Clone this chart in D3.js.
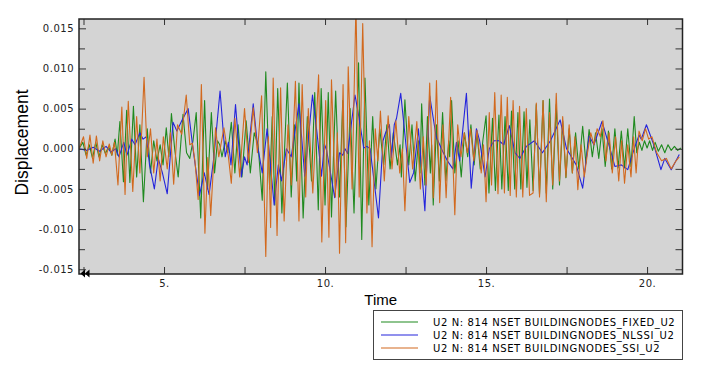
<!DOCTYPE html>
<html><head><meta charset="utf-8">
<script src="https://cdn.jsdelivr.net/npm/d3@7"></script>
<style>
html,body{margin:0;padding:0;background:#fff;}
svg{display:block;}
</style></head>
<body>
<script>
// ---------- DATA ----------
const seriesNames = ["U2 N: 814 NSET BUILDINGNODES_FIXED_U2","U2 N: 814 NSET BUILDINGNODES_NLSSI_U2","U2 N: 814 NSET BUILDINGNODES_SSI_U2"];
const seriesColors = ["#1f8a1f","#2424dc","#d2691e"];
const xTicks = [2.5,5,7.5,10,12.5,15,17.5,20];
const xLabelTicks = [5,10,15,20];
const yMajorTicks = [-0.015,-0.010,-0.005,0.000,0.005,0.010,0.015];
const yMinorTicks = [-0.0125,-0.0075,-0.0025,0.0025,0.0075,0.0125];
const xDomain = [2.36,21.10];
const yDomain = [-0.01559,0.01616];

const fixedData = [[2.36,0],[2.48,0.0008],[2.58,-0.0008],[2.68,0.0005],[2.78,-0.0012],[2.88,0.0008],[2.98,-0.0010],[3.08,0.0005],[3.18,-0.0006],[3.28,0.0003],[3.38,-0.0008],[3.48,0.0012],[3.55,-0.0008],[3.63,0.0034],[3.74,-0.0041],[3.84,0.0048],[3.94,-0.0042],[4.05,0.0053],[4.15,-0.0035],[4.25,0.0030],[4.36,-0.0066],[4.48,0.0025],[4.58,-0.0030],[4.68,0.0010],[4.78,-0.0015],[4.88,0.0005],[4.97,-0.0020],[5.07,0.0026],[5.15,-0.0010],[5.23,0.0044],[5.33,0.0000],[5.44,-0.0035],[5.59,0.0043],[5.70,-0.0005],[5.80,-0.0012],[5.90,0.0010],[6.00,0.0045],[6.14,-0.0086],[6.26,0.0060],[6.35,-0.0050],[6.47,0.0045],[6.57,-0.0030],[6.66,0.0010],[6.73,0.0005],[6.80,-0.0010],[6.90,0.0010],[6.98,-0.0005],[7.09,0.0033],[7.20,-0.0030],[7.30,0.0030],[7.42,-0.0035],[7.55,0.0035],[7.68,-0.0030],[7.80,0.0020],[7.92,0.0005],[8.05,-0.0064],[8.16,0.0096],[8.28,-0.0050],[8.36,0.0040],[8.44,-0.0070],[8.53,0.0075],[8.66,-0.0080],[8.83,0.0082],[8.95,-0.0060],[9.05,0.0030],[9.12,-0.0040],[9.19,0.0082],[9.32,-0.0086],[9.45,0.0040],[9.58,-0.0040],[9.68,0.0070],[9.79,-0.0076],[9.88,0.0075],[10.00,-0.0070],[10.10,0.0070],[10.20,-0.0085],[10.33,0.0072],[10.45,-0.0060],[10.55,0.0060],[10.65,-0.0097],[10.78,0.0050],[10.90,-0.0080],[11.04,0.0107],[11.14,-0.0113],[11.24,0.0088],[11.36,-0.0070],[11.48,0.0040],[11.58,-0.0050],[11.70,0.0025],[11.82,-0.0020],[11.92,0.0030],[12.02,-0.0025],[12.12,0.0020],[12.25,-0.0020],[12.33,0.0005],[12.37,-0.0035],[12.48,0.0061],[12.60,-0.0020],[12.70,0.0030],[12.80,-0.0040],[12.90,0.0010],[12.95,-0.0030],[13.00,0.0056],[13.10,-0.0045],[13.18,0.0040],[13.27,-0.0030],[13.31,0.0005],[13.36,-0.0070],[13.46,0.0030],[13.55,-0.0040],[13.65,0.0045],[13.75,-0.0040],[13.84,0.0010],[13.87,-0.0010],[13.93,0.0060],[14.03,-0.0030],[14.13,0.0010],[14.23,-0.0035],[14.33,0.0020],[14.43,-0.0010],[14.53,0.0030],[14.63,-0.0020],[14.72,0.0020],[14.82,-0.0025],[14.90,0.0010],[15.00,0.0041],[15.09,-0.0055],[15.20,0.0038],[15.29,-0.0052],[15.40,0.0042],[15.49,-0.0050],[15.59,0.0040],[15.69,-0.0052],[15.79,0.0047],[15.89,-0.0050],[15.99,0.0045],[16.08,-0.0050],[16.18,0.0046],[16.27,-0.0048],[16.36,0.0036],[16.46,-0.0052],[16.56,0.0055],[16.66,-0.0057],[16.77,0.0060],[16.87,-0.0055],[16.97,0.0062],[17.07,-0.0050],[17.18,0.0055],[17.28,-0.0045],[17.38,0.0035],[17.48,-0.0036],[17.58,0.0025],[17.68,-0.0030],[17.78,0.0020],[17.88,-0.0025],[18.00,0.0028],[18.10,-0.0018],[18.20,0.0024],[18.30,-0.0010],[18.40,0.0020],[18.50,-0.0012],[18.60,0.0025],[18.70,-0.0022],[18.80,0.0022],[18.90,-0.0025],[19.00,0.0025],[19.10,-0.0024],[19.20,0.0022],[19.30,-0.0024],[19.40,0.0025],[19.50,-0.0022],[19.60,0.0040],[19.68,-0.0005],[19.76,0.0008],[19.84,-0.0002],[19.92,0.0010],[20.00,0.0001],[20.08,0.0010],[20.17,-0.0002],[20.25,0.0008],[20.35,-0.0003],[20.45,0.0005],[20.55,-0.0005],[20.65,0.0005],[20.75,-0.0002],[20.85,0.0003],[20.95,-0.0002],[21.05,0.0001]];

const nlssiData = [[2.36,0],[2.6,-0.0002],[2.8,0.0002],[3.0,-0.0003],[3.2,0.0003],[3.35,-0.0004],[3.5,0.0000],[3.6,-0.0010],[3.75,0.0008],[3.85,-0.0008],[4.0,0.0012],[4.1,0.0005],[4.25,0.0020],[4.35,0.0012],[4.45,0.0015],[4.55,-0.0020],[4.7,-0.0050],[4.82,-0.0012],[4.95,-0.0030],[5.1,-0.0056],[5.28,0.0033],[5.4,0.0022],[5.55,0.0035],[5.75,0.0050],[5.9,0.0000],[6.1,-0.0058],[6.25,-0.0030],[6.4,-0.0057],[6.55,-0.0010],[6.74,0.0072],[6.9,-0.0010],[7.0,0.0008],[7.08,-0.0020],[7.22,0.0055],[7.4,-0.0035],[7.5,-0.0010],[7.58,-0.0020],[7.77,0.0056],[7.9,0.0005],[8.05,-0.0030],[8.2,0.0025],[8.42,-0.0070],[8.55,-0.0020],[8.65,-0.0040],[8.8,0.0000],[8.95,-0.0010],[9.19,0.0056],[9.37,-0.0034],[9.61,0.0067],[9.75,0.0020],[9.89,-0.0034],[9.98,0.0006],[10.05,-0.0002],[10.3,-0.0061],[10.45,-0.0005],[10.55,-0.0008],[10.62,0.0000],[10.7,-0.0006],[10.93,0.0067],[11.05,0.0040],[11.2,0.0001],[11.3,0.0003],[11.4,0.0000],[11.5,-0.0033],[11.66,-0.0086],[11.8,0.0010],[11.88,0.0020],[12.0,0.0030],[12.06,-0.0011],[12.15,0.0030],[12.22,0.0038],[12.35,0.0069],[12.45,0.0030],[12.63,-0.0042],[12.75,-0.0030],[12.9,0.0025],[13.1,-0.0077],[13.25,0.0066],[13.45,0.0015],[13.65,-0.0003],[13.8,-0.0015],[13.97,-0.0025],[14.08,0.0008],[14.18,-0.0015],[14.39,0.0069],[14.54,-0.0049],[14.7,0.0025],[14.8,0.0010],[14.97,-0.0035],[15.1,0.0000],[15.25,0.0010],[15.4,0.0010],[15.55,0.0005],[15.72,0.0029],[15.9,-0.0005],[16.05,-0.0012],[16.25,0.0003],[16.5,0.0010],[16.75,-0.0005],[17.0,0.0010],[17.3,0.0036],[17.5,0.0000],[17.65,-0.0010],[17.8,-0.0020],[18.0,-0.0049],[18.2,0.0016],[18.35,0.0005],[18.6,0.0034],[18.85,0.0000],[19.0,-0.0022],[19.2,-0.0020],[19.4,-0.0026],[19.6,0.0000],[19.75,0.0017],[19.82,0.0012],[19.98,0.0030],[20.2,0.0006],[20.43,-0.0026],[20.55,-0.0012],[20.75,-0.0026],[21.0,-0.0007]];

const ssiData = [[2.36,0],[2.50,0.0015],[2.60,-0.0012],[2.70,0.0017],[2.80,-0.0018],[2.90,0.0016],[3.00,-0.0015],[3.10,0.0010],[3.20,-0.0010],[3.30,0.0006],[3.38,-0.0008],[3.46,0.0008],[3.57,-0.0045],[3.69,0.0052],[3.79,-0.0057],[3.89,0.0059],[4.03,-0.0053],[4.15,0.0040],[4.25,-0.0030],[4.38,0.0089],[4.48,-0.0010],[4.58,0.0025],[4.68,-0.0030],[4.78,0.0012],[4.88,-0.0040],[4.98,0.0015],[5.10,-0.0025],[5.20,0.0020],[5.30,-0.0044],[5.42,0.0030],[5.55,0.0018],[5.69,0.0067],[5.80,0.0005],[5.88,0.0007],[5.96,-0.0015],[6.06,-0.0063],[6.16,0.0080],[6.27,-0.0105],[6.36,-0.0011],[6.45,-0.0083],[6.60,0.0026],[6.70,-0.0010],[6.86,0.0026],[7.00,-0.0010],[7.09,-0.0043],[7.20,0.0038],[7.35,-0.0035],[7.50,0.0050],[7.62,-0.0017],[7.77,0.0051],[7.90,-0.0005],[8.03,0.0066],[8.16,-0.0134],[8.24,0.0015],[8.31,-0.0098],[8.39,0.0088],[8.51,-0.0108],[8.62,0.0076],[8.73,-0.0090],[8.85,0.0030],[8.95,-0.0045],[9.08,0.0084],[9.19,-0.0090],[9.29,0.0080],[9.40,-0.0060],[9.48,0.0050],[9.62,-0.0055],[9.80,0.0092],[9.90,-0.0116],[10.02,0.0060],[10.12,-0.0110],[10.20,0.0086],[10.32,-0.0060],[10.38,0.0020],[10.45,-0.0130],[10.56,0.0080],[10.64,-0.0117],[10.72,0.0102],[10.84,-0.0050],[10.96,0.0180],[11.06,-0.0060],[11.17,0.0156],[11.30,-0.0080],[11.38,0.0010],[11.46,-0.0122],[11.56,0.0025],[11.64,-0.0015],[11.72,0.0047],[11.84,-0.0040],[11.96,0.0041],[12.08,-0.0025],[12.20,0.0035],[12.32,-0.0030],[12.40,0.0000],[12.48,-0.0077],[12.60,0.0040],[12.72,-0.0025],[12.85,0.0034],[12.96,-0.0050],[13.05,0.0015],[13.14,-0.0045],[13.25,0.0082],[13.36,-0.0061],[13.46,0.0085],[13.56,-0.0067],[13.66,0.0030],[13.76,-0.0061],[13.90,0.0064],[14.03,-0.0082],[14.12,0.0030],[14.22,-0.0010],[14.32,0.0020],[14.42,-0.0005],[14.52,0.0025],[14.62,-0.0015],[14.72,0.0023],[14.85,-0.0030],[14.92,0.0005],[15.00,-0.0066],[15.10,0.0045],[15.17,-0.0045],[15.27,0.0070],[15.37,-0.0056],[15.47,0.0067],[15.57,-0.0055],[15.66,0.0064],[15.75,-0.0058],[15.84,0.0060],[15.94,-0.0060],[16.04,0.0053],[16.14,-0.0060],[16.25,0.0050],[16.35,-0.0058],[16.46,-0.0055],[16.56,0.0057],[16.66,-0.0060],[16.77,0.0060],[16.87,-0.0066],[16.97,0.0045],[17.07,-0.0045],[17.18,0.0069],[17.28,-0.0040],[17.38,0.0040],[17.48,-0.0035],[17.58,0.0030],[17.68,-0.0030],[17.76,0.0015],[17.85,-0.0051],[17.95,0.0005],[18.05,-0.0035],[18.15,-0.0005],[18.25,0.0020],[18.35,0.0005],[18.45,0.0025],[18.55,0.0015],[18.63,0.0035],[18.72,-0.0015],[18.82,0.0020],[18.92,-0.0030],[19.02,0.0015],[19.12,-0.0040],[19.21,0.0010],[19.30,-0.0043],[19.40,0.0005],[19.50,-0.0035],[19.58,0.0015],[19.66,-0.0030],[19.75,0.0022],[19.85,0.0010],[19.95,0.0025],[20.05,0.0012],[20.15,0.0015],[20.30,-0.0005],[20.45,-0.0015],[20.60,-0.0012],[20.75,-0.0025],[20.90,-0.0015],[21.00,-0.0010]];

const allSeries = [fixedData, nlssiData, ssiData];

// ---------- CHART ----------
const W = 708, H = 371;
const plot = {left: 79, right: 682.5, top: 19, bottom: 274};
const svg = d3.select("body").append("svg").attr("width", W).attr("height", H);

const x = d3.scaleLinear().domain(xDomain).range([plot.left, plot.right]);
const y = d3.scaleLinear().domain(yDomain).range([plot.bottom, plot.top]);

svg.append("defs").append("clipPath").attr("id","clip")
  .append("rect").attr("x",plot.left).attr("y",plot.top)
  .attr("width",plot.right-plot.left).attr("height",plot.bottom-plot.top);

svg.append("rect").attr("x",plot.left).attr("y",plot.top)
  .attr("width",plot.right-plot.left).attr("height",plot.bottom-plot.top)
  .attr("fill","#d4d4d4");

const line = d3.line().x(d => x(d[0])).y(d => y(d[1]));
const gLines = svg.append("g").attr("clip-path","url(#clip)");
allSeries.forEach((s,i) => {
  gLines.append("path").datum(s).attr("d", line)
    .attr("fill","none").attr("stroke", seriesColors[i]).attr("stroke-width",1.1)
    .attr("stroke-linejoin","round");
});

const tickFont = "'DejaVu Sans', Verdana, sans-serif";
function styleAxis(g){
  g.select(".domain").remove();
  g.selectAll(".tick line").attr("stroke","#333").attr("stroke-width",1);
  g.selectAll(".tick text").attr("fill","#222").style("font-family",tickFont)
    .style("font-size","10px").style("letter-spacing","0.5px");
}
// left
svg.append("g").attr("transform",`translate(${plot.left},0)`)
  .call(d3.axisLeft(y).tickValues(yMajorTicks).tickSize(-7).tickPadding(5).tickFormat(d => d.toFixed(3)))
  .call(styleAxis);
svg.append("g").attr("transform",`translate(${plot.left},0)`)
  .call(d3.axisLeft(y).tickValues(yMinorTicks).tickSize(-6).tickFormat(""))
  .call(styleAxis);
// right
svg.append("g").attr("transform",`translate(${plot.right},0)`)
  .call(d3.axisRight(y).tickValues(yMajorTicks.concat(yMinorTicks)).tickSize(-7).tickFormat(""))
  .call(styleAxis);
// bottom
svg.append("g").attr("transform",`translate(0,${plot.bottom})`)
  .call(d3.axisBottom(x).tickValues(xTicks).tickSize(-7).tickPadding(6)
    .tickFormat(d => xLabelTicks.includes(d) ? d + "." : ""))
  .call(styleAxis);
// top
svg.append("g").attr("transform",`translate(0,${plot.top})`)
  .call(d3.axisTop(x).tickValues(xTicks).tickSize(-6).tickFormat(""))
  .call(styleAxis);

// frame
svg.append("rect").attr("x",plot.left).attr("y",plot.top)
  .attr("width",plot.right-plot.left).attr("height",plot.bottom-plot.top)
  .attr("fill","none").attr("stroke","#222").attr("stroke-width",1.5);

// rewind marker
svg.append("path").attr("d","M80.5,273.5L85,269.5L85,277.5Z M85,273.5L89.5,269.5L89.5,277.5Z").attr("fill","#000");

// axis titles
svg.append("text").attr("transform",`translate(28,${(plot.top+plot.bottom)/2 - 4}) rotate(-90)`)
  .attr("text-anchor","middle").style("font-family","'Liberation Sans', Arial, sans-serif")
  .style("font-size","17.5px").attr("fill","#000").text("Displacement");
svg.append("text").attr("x",(plot.left+plot.right)/2).attr("y",304.5)
  .attr("text-anchor","middle").style("font-family","'Liberation Sans', Arial, sans-serif")
  .style("font-size","15px").attr("fill","#000").text("Time");

// legend
const lg = svg.append("g");
lg.append("rect").attr("x",373.5).attr("y",310.5).attr("width",309).attr("height",49)
  .attr("fill","#fff").attr("stroke","#444").attr("stroke-width",1);
const rowY = [322, 335, 348];
seriesNames.forEach((n,i) => {
  lg.append("line").attr("x1",381).attr("x2",418).attr("y1",rowY[i]).attr("y2",rowY[i])
    .attr("stroke",seriesColors[i]).attr("stroke-width",1.2);
  lg.append("text").attr("x",433).attr("y",rowY[i]+3.6)
    .style("font-family",tickFont).style("font-size","10px").style("letter-spacing","0.6px")
    .attr("fill","#000").text(n);
});
</script>
</body></html>
